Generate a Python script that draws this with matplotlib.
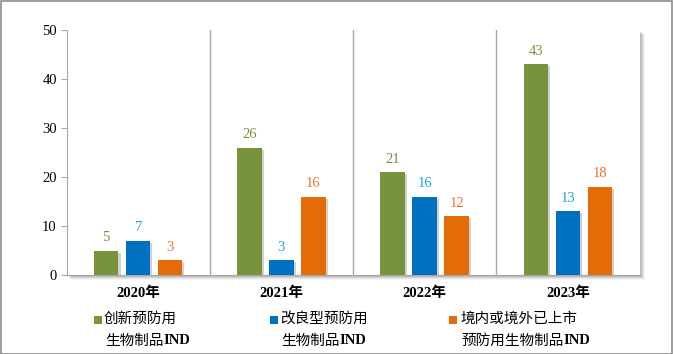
import numpy as np
import matplotlib
matplotlib.use("Agg")
import matplotlib.pyplot as plt
import matplotlib.patheffects as pe
from matplotlib.patches import Rectangle

plt.rcParams['font.family'] = ['Liberation Serif', 'Noto Sans CJK SC']

# 数据
years = ['2020年', '2021年', '2022年', '2023年']
series_names = ['创新预防用\n生物制品IND', '改良型预防用\n生物制品IND', '境内或境外已上市\n预防用生物制品IND']
innovative = [5, 26, 21, 43]
improved = [7, 3, 16, 13]
marketed = [3, 16, 12, 18]

bar_colors = ['#77933C', '#0070C0', '#E36C09']
label_colors = ['#77933C', '#1AA3E6', '#E8762A']

fig = plt.figure(figsize=(6.73, 3.54), dpi=100)
W, H = 673, 354

# 坐标区位置 (像素换算)
left, right, top, bottom = 66.5, 639.5, 30, 275
ax_rect = [left / W, 1 - bottom / H, (right - left) / W, (bottom - top) / H]

# 坐标区阴影
for k, a in zip([5, 4, 3, 2], [0.08, 0.12, 0.18, 0.25]):
    fig.patches.append(Rectangle((ax_rect[0] + k / W, ax_rect[1] - k / H), ax_rect[2], ax_rect[3],
                                 transform=fig.transFigure, facecolor='gray', edgecolor='none',
                                 alpha=a, zorder=0))

ax = fig.add_axes(ax_rect)
ax.set_zorder(1)
ax.set_facecolor('white')

x = np.arange(len(years))
offset = 0.223
width = 0.171
all_series = [innovative, improved, marketed]
shadow = [pe.SimplePatchShadow(offset=(1.5, -1.5), shadow_rgbFace='gray', alpha=0.35), pe.Normal()]

for i, vals in enumerate(all_series):
    pos = x + (i - 1) * offset
    bars = ax.bar(pos, vals, width, color=bar_colors[i], zorder=3)
    for b in bars:
        b.set_path_effects(shadow)
    for p, v in zip(pos, vals):
        ax.text(p, v + 1.3, str(v), ha='center', va='bottom', fontsize=10.5, color=label_colors[i])

# 年份分隔线
for s in [0.5, 1.5, 2.5]:
    ax.axvline(s, color='#A6A6A6', linewidth=1, zorder=1)

ax.set_xlim(-0.5, 3.5)
ax.set_ylim(0, 50)
ax.set_yticks([0, 10, 20, 30, 40, 50])
ax.tick_params(axis='y', labelsize=10.5, length=4, color='#A6A6A6', pad=3)
ax.set_xticks(x)
ax.set_xticklabels(years, fontsize=10.5, fontweight='bold')
ax.tick_params(axis='x', length=0, pad=8)
for sp in ['top', 'right']:
    ax.spines[sp].set_visible(False)
ax.spines['left'].set_color('#A6A6A6')
ax.spines['bottom'].set_color('#A6A6A6')

# 图例 (手动)
legend_x = [93.5, 270, 448.5]
text_x = [104, 280, 460]
renderer = fig.canvas.get_renderer()
for i, name in enumerate(series_names):
    line1, line2 = name.split('\n')
    fig.patches.append(Rectangle((legend_x[i] / W, 1 - 324 / H), 8 / W, 8 / H,
                                 transform=fig.transFigure, facecolor=bar_colors[i], edgecolor='none'))
    fig.text(text_x[i] / W, 1 - 319 / H, line1, fontsize=10.5, va='center', ha='left')
    # 第二行: 中文常规 + "IND" 加粗
    head = line2[:-3]
    t = fig.text((text_x[i] + 1) / W, 1 - 341 / H, head, fontsize=10.5, va='center', ha='left')
    bb = t.get_window_extent(renderer=renderer)
    fig.text(bb.x1 / W, 1 - 341 / H, 'IND', fontsize=10.5, fontweight='bold', va='center', ha='left')

# 外框
fig.patches.append(Rectangle((0.5 / W, 0.5 / H), 1 - 1.5 / W, 1 - 1.5 / H, transform=fig.transFigure,
                             facecolor='none', edgecolor='#8C8C8C', linewidth=1.2))

fig.savefig('out.png', dpi=100)
